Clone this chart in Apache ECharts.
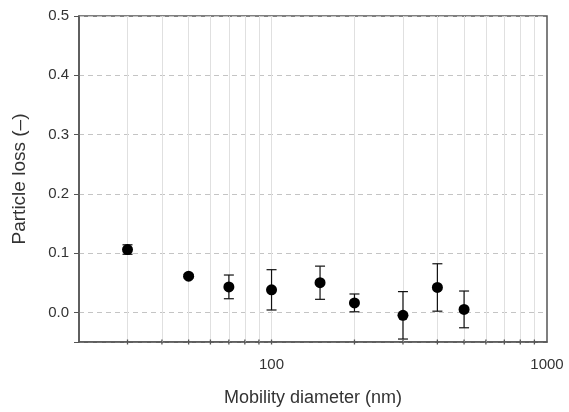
<!DOCTYPE html>
<html>
<head>
<meta charset="utf-8">
<script src="https://cdn.jsdelivr.net/npm/echarts@6/dist/echarts.min.js"></script>
<style>
html,body{margin:0;padding:0;background:#fff;}
#chart{width:569px;height:412px;}
</style>
</head>
<body>
<div id="chart"></div>
<script>
// Data
var diameters = [30, 50, 70, 100, 150, 200, 300, 400, 500];
var loss = [0.106, 0.061, 0.043, 0.038, 0.050, 0.016, -0.005, 0.042, 0.005];
var lossErr = [0.008, 0.003, 0.020, 0.034, 0.028, 0.015, 0.040, 0.040, 0.031];
var xGridValues = [30, 40, 50, 60, 70, 80, 90, 100, 200, 300, 400, 500, 600, 700, 800, 900];
var xTickValues = [30, 40, 50, 60, 70, 80, 90, 100, 200, 300, 400, 500, 600, 700, 800, 900];
var xLabelValues = [100, 1000];
var yMin = -0.05, yMax = 0.5;

var FONT = "'Liberation Sans', Arial, sans-serif";
var chart = echarts.init(document.getElementById('chart'));

var points = diameters.map(function (d, i) { return [d, loss[i]]; });
var errData = diameters.map(function (d, i) { return [d, loss[i] - lossErr[i], loss[i] + lossErr[i]]; });
var tickData = xTickValues.map(function (v) { return [v, yMin]; });

chart.setOption({
  animation: false,
  backgroundColor: '#fff',
  grid: {
    left: 79, right: 22, top: 16, bottom: 70,
    show: true, borderColor: '#555', borderWidth: 1.5, backgroundColor: 'transparent'
  },
  xAxis: {
    type: 'log', logBase: 10, min: 20, max: 1000,
    name: 'Mobility diameter (nm)', nameLocation: 'middle', nameGap: 47,
    nameTextStyle: { fontFamily: FONT, fontSize: 18, color: '#333' },
    axisLine: { show: true, onZero: false, lineStyle: { color: '#555', width: 1.5 } },
    axisTick: { show: false },
    splitLine: { show: false },
    minorTick: { show: false },
    axisLabel: {
      fontFamily: FONT, fontSize: 15, color: '#333', margin: 15,
      showMinLabel: false,
      formatter: function (v) {
        for (var i = 0; i < xLabelValues.length; i++) {
          if (Math.abs(v - xLabelValues[i]) < 1e-6 * xLabelValues[i]) return String(xLabelValues[i]);
        }
        return '';
      }
    }
  },
  yAxis: {
    type: 'value', min: yMin, max: yMax, splitNumber: 5,
    name: 'Particle loss (–)', nameLocation: 'middle', nameGap: 50,
    nameTextStyle: { fontFamily: FONT, fontSize: 19, color: '#333' },
    axisLine: { show: true, onZero: false, lineStyle: { color: '#555', width: 1.5 } },
    axisTick: { show: true, length: 5, lineStyle: { color: '#555' } },
    splitLine: { show: true, lineStyle: { color: '#c4c4c4', type: [5, 4], width: 1 } },
    axisLabel: {
      fontFamily: FONT, fontSize: 15, color: '#333', margin: 10,
      formatter: function (v) { return v < -0.001 ? '' : v.toFixed(1); }
    }
  },
  series: [
    {
      type: 'scatter',
      name: 'ticks',
      data: tickData,
      symbol: 'rect',
      symbolSize: [1.3, 5],
      itemStyle: { color: '#555', opacity: 1 },
      silent: true,
      clip: false,
      z: 5,
      markLine: {
        silent: true,
        symbol: ['none', 'none'],
        label: { show: false },
        lineStyle: { color: '#e0e0e0', type: 'solid', width: 1 },
        data: xGridValues.map(function (v) { return { xAxis: v }; }),
        z: 1
      }
    },
    {
      type: 'custom',
      name: 'error',
      data: errData,
      clip: false,
      z: 3,
      renderItem: function (params, api) {
        var x = api.value(0);
        var lo = api.coord([x, api.value(1)]);
        var hi = api.coord([x, api.value(2)]);
        var hw = 5;
        var style = { stroke: '#111', lineWidth: 1.2 };
        return {
          type: 'group',
          children: [
            { type: 'line', shape: { x1: lo[0], y1: lo[1], x2: hi[0], y2: hi[1] }, style: style },
            { type: 'line', shape: { x1: lo[0] - hw, y1: lo[1], x2: lo[0] + hw, y2: lo[1] }, style: style },
            { type: 'line', shape: { x1: hi[0] - hw, y1: hi[1], x2: hi[0] + hw, y2: hi[1] }, style: style }
          ]
        };
      }
    },
    {
      type: 'scatter',
      name: 'loss',
      data: points,
      symbol: 'circle',
      symbolSize: 11,
      itemStyle: { color: '#000', opacity: 1 },
      z: 10
    }
  ]
});
</script>
</body>
</html>
